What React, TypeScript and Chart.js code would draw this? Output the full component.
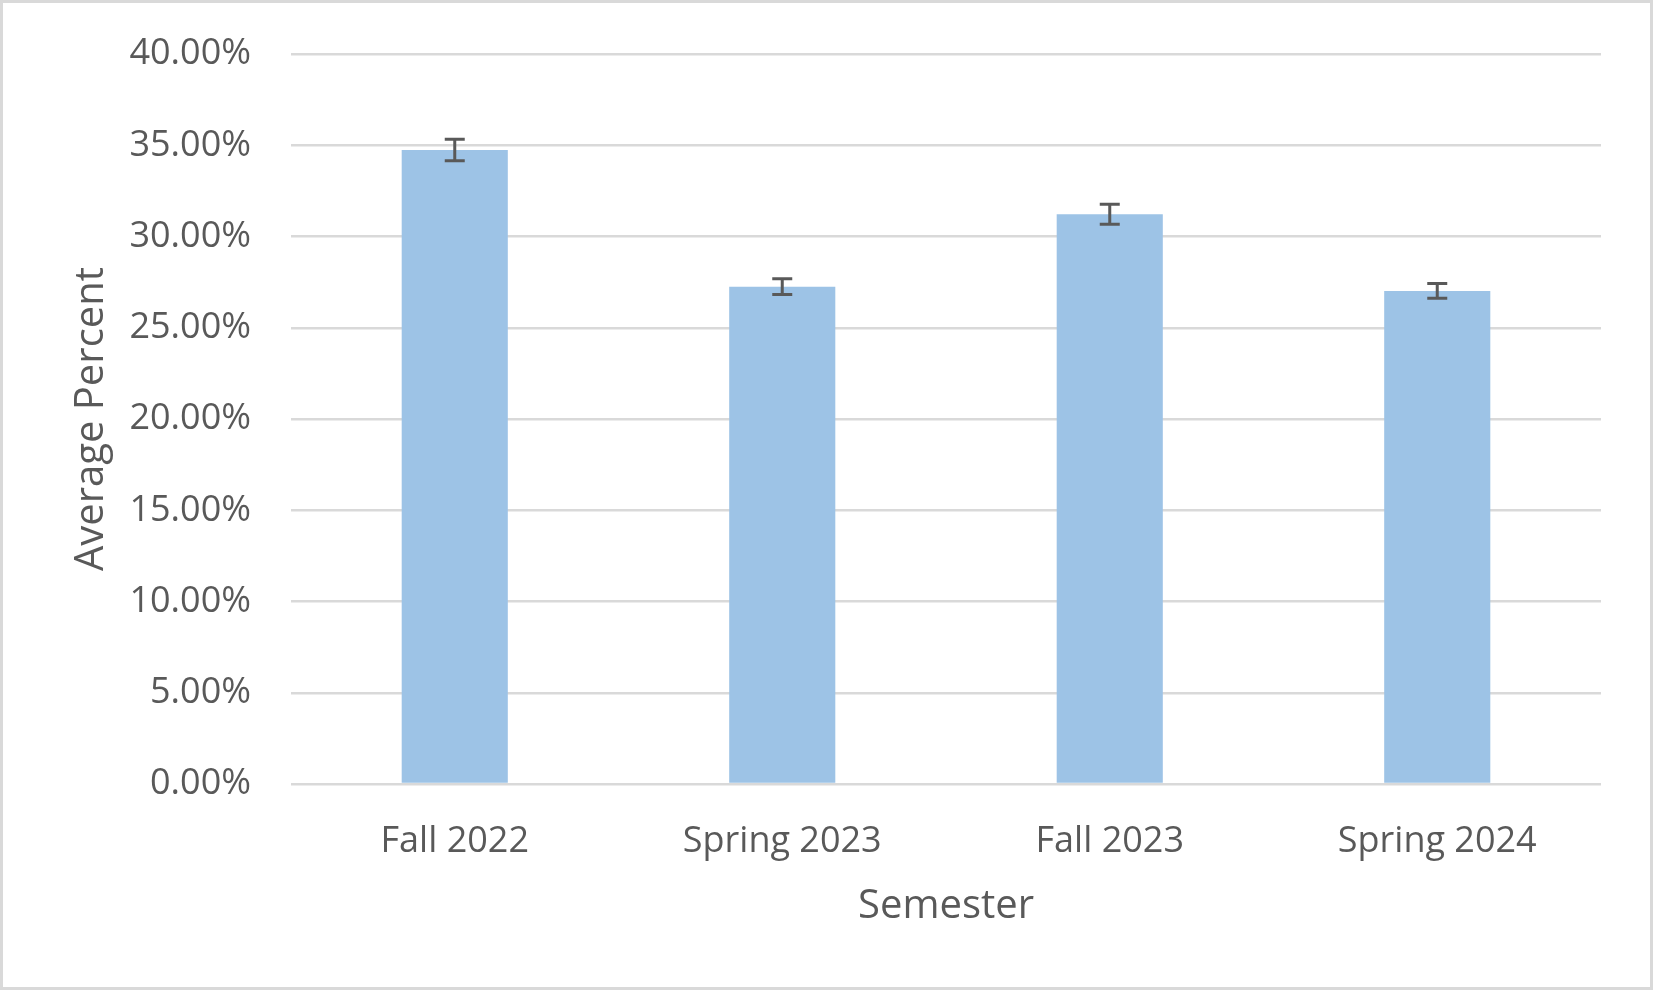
import React, { useEffect, useRef } from "react";
import { Chart, registerables } from "chart.js";

Chart.register(...registerables);

const categories = ["Fall 2022", "Spring 2023", "Fall 2023", "Spring 2024"];
const averagePercent = [34.74, 27.25, 31.22, 27.02];
const errorMargin = [0.59, 0.43, 0.55, 0.41];
const yTicks = [0, 5, 10, 15, 20, 25, 30, 35, 40];

const TEXT = "#595959";
const FONT = "'Open Sans', sans-serif";

const errorBarPlugin = {
  id: "errorBars",
  afterDatasetsDraw(chart: any) {
    const meta = chart.getDatasetMeta(0);
    const y = chart.scales.y;
    const ctx = chart.ctx;
    ctx.save();
    ctx.strokeStyle = "#595959";
    ctx.lineWidth = 3;
    meta.data.forEach((bar: any, i: number) => {
      const x = bar.x;
      const top = y.getPixelForValue(averagePercent[i] + errorMargin[i]);
      const bot = y.getPixelForValue(averagePercent[i] - errorMargin[i]);
      const half = 10;
      ctx.beginPath();
      ctx.moveTo(x, top);
      ctx.lineTo(x, bot);
      ctx.moveTo(x - half, top);
      ctx.lineTo(x + half, top);
      ctx.moveTo(x - half, bot);
      ctx.lineTo(x + half, bot);
      ctx.stroke();
    });
    ctx.restore();
  },
};

const borderPlugin = {
  id: "outerBorder",
  beforeDraw(chart: any) {
    const ctx = chart.ctx;
    ctx.save();
    ctx.fillStyle = "#ffffff";
    ctx.fillRect(0, 0, chart.width, chart.height);
    ctx.strokeStyle = "#d9d9d9";
    ctx.lineWidth = 3;
    ctx.strokeRect(1.5, 1.5, chart.width - 3, chart.height - 3);
    ctx.restore();
  },
};

export default function App() {
  const ref = useRef<HTMLCanvasElement | null>(null);
  useEffect(() => {
    document.body.style.margin = "0";
    const chart = new Chart(ref.current as HTMLCanvasElement, {
      type: "bar",
      data: {
        labels: categories,
        datasets: [
          {
            data: averagePercent,
            backgroundColor: "#9DC3E6",
            borderWidth: 0,
            categoryPercentage: 1,
            barPercentage: 0.324,
          },
        ],
      },
      options: {
        animation: false,
        responsive: false,
        maintainAspectRatio: false,
        layout: { padding: { top: 54, right: 52, left: 0, bottom: 0 } },
        plugins: { legend: { display: false }, tooltip: { enabled: false } },
        scales: {
          x: {
            grid: { display: false },
            border: { display: false },
            ticks: { color: TEXT, font: { family: FONT, size: 36 }, padding: 28 },
            title: {
              display: true,
              text: "Semester",
              color: TEXT,
              font: { family: FONT, size: 40 },
              padding: { top: 0, bottom: 59 },
            },
            afterFit(scale: any) {
              scale.height = 206;
              scale.paddingLeft = 0;
              scale.paddingRight = 0;
            },
          },
          y: {
            min: 0,
            max: 40,
            afterBuildTicks(scale: any) {
              scale.ticks = yTicks.map((v) => ({ value: v }));
            },
            grid: { color: "#d9d9d9", lineWidth: 2.5, drawTicks: false },
            border: { display: false },
            ticks: {
              color: TEXT,
              font: { family: FONT, size: 36 },
              padding: 40,
              callback: (v: any) => Number(v).toFixed(2) + "%",
            },
            title: {
              display: true,
              text: "Average Percent",
              color: TEXT,
              font: { family: FONT, size: 40 },
              padding: { top: 68, bottom: 0 },
            },
            afterFit(scale: any) {
              scale.width = 291;
              scale.paddingTop = 0;
              scale.paddingBottom = 0;
            },
          },
        },
      },
      plugins: [borderPlugin, errorBarPlugin],
    } as any);
    return () => chart.destroy();
  }, []);
  return (
    <div style={{ width: 1653, height: 990 }}>
      <canvas ref={ref} width={1653} height={990} style={{ display: "block" }} />
    </div>
  );
}
